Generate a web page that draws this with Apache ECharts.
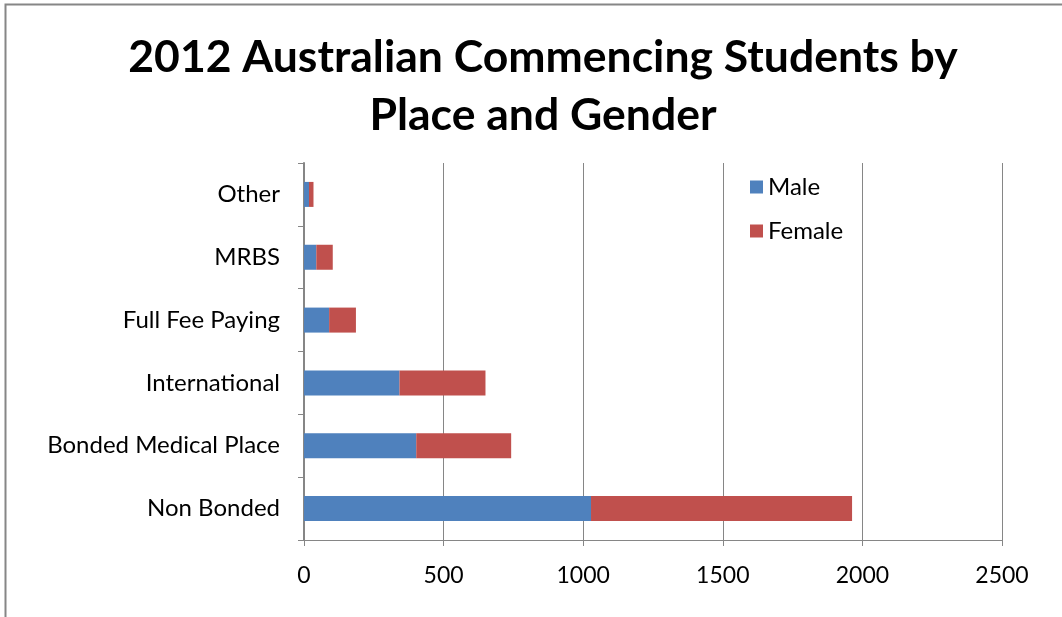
<!DOCTYPE html>
<html><head><meta charset="utf-8">
<script src="https://cdn.jsdelivr.net/npm/echarts@6/dist/echarts.min.js"></script>
<style>html,body{margin:0;padding:0;background:#fff}#c{width:1062px;height:617px}</style>
</head><body><div id="c"></div>
<script>
const categories = ['Non Bonded','Bonded Medical Place','International','Full Fee Paying','MRBS','Other'];
const male = [1028, 402, 342, 90, 44, 18];
const female = [935, 340, 308, 96, 59, 16];
const xTicks = [0, 500, 1000, 1500, 2000, 2500];

const font = "Lato, 'Open Sans', sans-serif";
const chart = echarts.init(document.getElementById('c'));
chart.setOption({
  animation: false,
  backgroundColor: '#fff',
  textStyle: {fontFamily: font},
  title: {
    text: '2012 Australian Commencing Students by\nPlace and Gender',
    left: 538, top: 24, textAlign: 'center',
    textStyle: {fontSize: 44.5, fontWeight: 'bold', color: '#000', lineHeight: 58, fontFamily: font}
  },
  graphic: [{type: 'rect', shape: {x: 5.5, y: 4.5, width: 1070, height: 640}, style: {fill: 'none', stroke: '#868686', lineWidth: 2}}],
  legend: {
    orient: 'vertical', left: 745, top: 170, itemGap: 20,
    itemWidth: 13, itemHeight: 13, icon: 'rect',
    textStyle: {fontSize: 24, color: '#000', fontFamily: font},
    data: ['Male', 'Female']
  },
  grid: {left: 304, right: 60, top: 163, bottom: 77},
  xAxis: {
    type: 'value', min: 0, max: 2500, interval: 500,
    axisLine: {show: true, lineStyle: {color: '#868686', width: 1}},
    axisTick: {show: true, length: 6, lineStyle: {color: '#868686'}},
    axisLabel: {fontSize: 23, color: '#000', margin: 24, fontFamily: font,
      formatter: v => xTicks.includes(v) ? String(v) : ''},
    splitLine: {show: true, lineStyle: {color: '#868686', width: 1}}
  },
  yAxis: {
    type: 'category', data: categories,
    axisLine: {show: true, lineStyle: {color: '#868686', width: 2}},
    axisTick: {show: true, length: 6, lineStyle: {color: '#868686'}},
    axisLabel: {fontSize: 24, color: '#000', margin: 24, fontFamily: font}
  },
  series: [
    {name: 'Male', type: 'bar', stack: 'a', data: male, barWidth: 25,
     itemStyle: {color: '#4f81bd'}},
    {name: 'Female', type: 'bar', stack: 'a', data: female, barWidth: 25,
     itemStyle: {color: '#c0504d'}}
  ]
});
</script></body></html>
